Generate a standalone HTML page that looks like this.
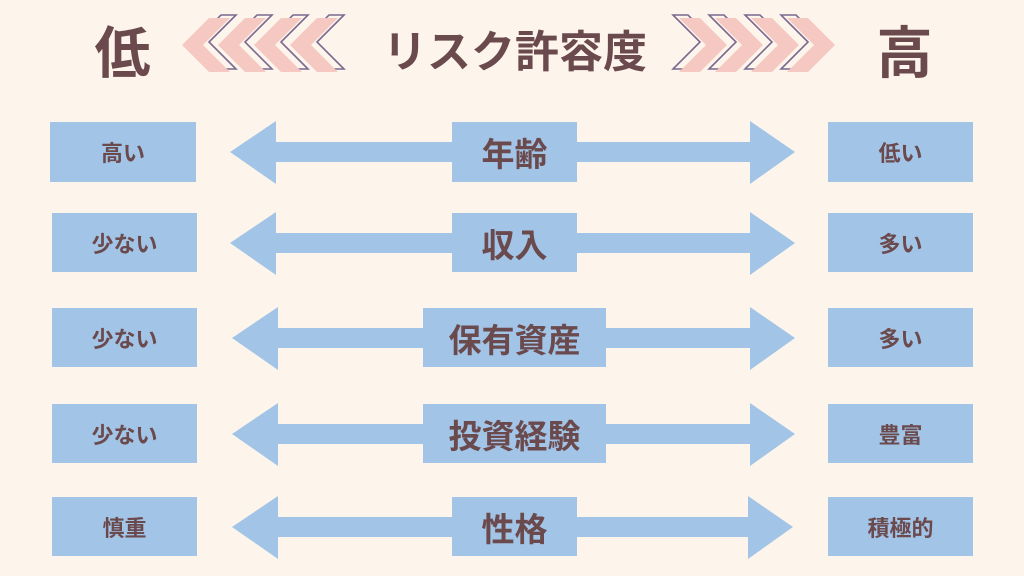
<!DOCTYPE html>
<html><head><meta charset="utf-8"><style>
body{margin:0;width:1024px;height:576px;background:#fdf5ec;overflow:hidden;position:relative;font-family:"Liberation Sans","Noto Sans CJK JP",sans-serif;font-weight:bold;color:#6b4a4e}
.b{position:absolute;background:#a2c4e6;display:flex;align-items:center;justify-content:center}
.s{font-size:22px}.c{font-size:33px}
.t{position:absolute;display:flex;align-items:center;justify-content:center}
</style></head><body>
<svg width="1024" height="576" style="position:absolute;left:0;top:0">
<defs>
<g id="ch">
<polygon points="12,42 39,15 54,15 27,42 54,69 39,69" fill="none" stroke="#7a6a90" stroke-width="1.6"/>
<polygon points="0,45 27,18 48,18 21,45 48,72 27,72" fill="#f5c9c2"/>
</g>
<g id="grp">
<use href="#ch" x="182"/><use href="#ch" x="218"/><use href="#ch" x="254"/><use href="#ch" x="290"/>
</g>
</defs>
<use href="#grp"/>
<g transform="translate(1017,0) scale(-1,1)"><use href="#grp"/></g>
<g fill="#a2c4e6">
<polygon points="230,152 276,121 276,142 750,142 750,121 795,152 750,184 750,162 276,162 276,184"/>
<polygon points="230,243 276,212 276,233 750,233 750,212 795,243 750,275 750,253 276,253 276,275"/>
<polygon points="232,338 278,307 278,328 750,328 750,307 795,338 750,370 750,348 278,348 278,370"/>
<polygon points="232,434 278,403 278,424 750,424 750,403 795,434 750,466 750,444 278,444 278,466"/>
<polygon points="232,527 278,496 278,517 748,517 748,496 793,527 748,559 748,537 278,537 278,559"/>
</g>
</svg>
<div class="t" style="left:80px;top:14px;width:85px;height:70px;font-size:56px">低</div>
<div class="t" style="left:862px;top:14px;width:85px;height:70px;font-size:56px">高</div>
<div class="t" style="left:355px;top:20px;width:320px;height:56px;font-size:44px">リスク許容度</div>

<div class="b s" style="left:50px;top:122px;width:146px;height:60px">高い</div>
<div class="b s" style="left:52px;top:213px;width:145px;height:59px">少ない</div>
<div class="b s" style="left:52px;top:308px;width:145px;height:59px">少ない</div>
<div class="b s" style="left:52px;top:404px;width:145px;height:59px">少ない</div>
<div class="b s" style="left:52px;top:497px;width:145px;height:59px">慎重</div>

<div class="b c" style="left:452px;top:122px;width:125px;height:60px">年齢</div>
<div class="b c" style="left:452px;top:213px;width:125px;height:59px">収入</div>
<div class="b c" style="left:423px;top:308px;width:183px;height:59px">保有資産</div>
<div class="b c" style="left:423px;top:404px;width:183px;height:59px">投資経験</div>
<div class="b c" style="left:452px;top:497px;width:125px;height:59px">性格</div>

<div class="b s" style="left:828px;top:122px;width:145px;height:60px">低い</div>
<div class="b s" style="left:828px;top:213px;width:145px;height:59px">多い</div>
<div class="b s" style="left:828px;top:308px;width:145px;height:59px">多い</div>
<div class="b s" style="left:828px;top:404px;width:145px;height:59px">豊富</div>
<div class="b s" style="left:828px;top:497px;width:145px;height:59px">積極的</div>
</body></html>
